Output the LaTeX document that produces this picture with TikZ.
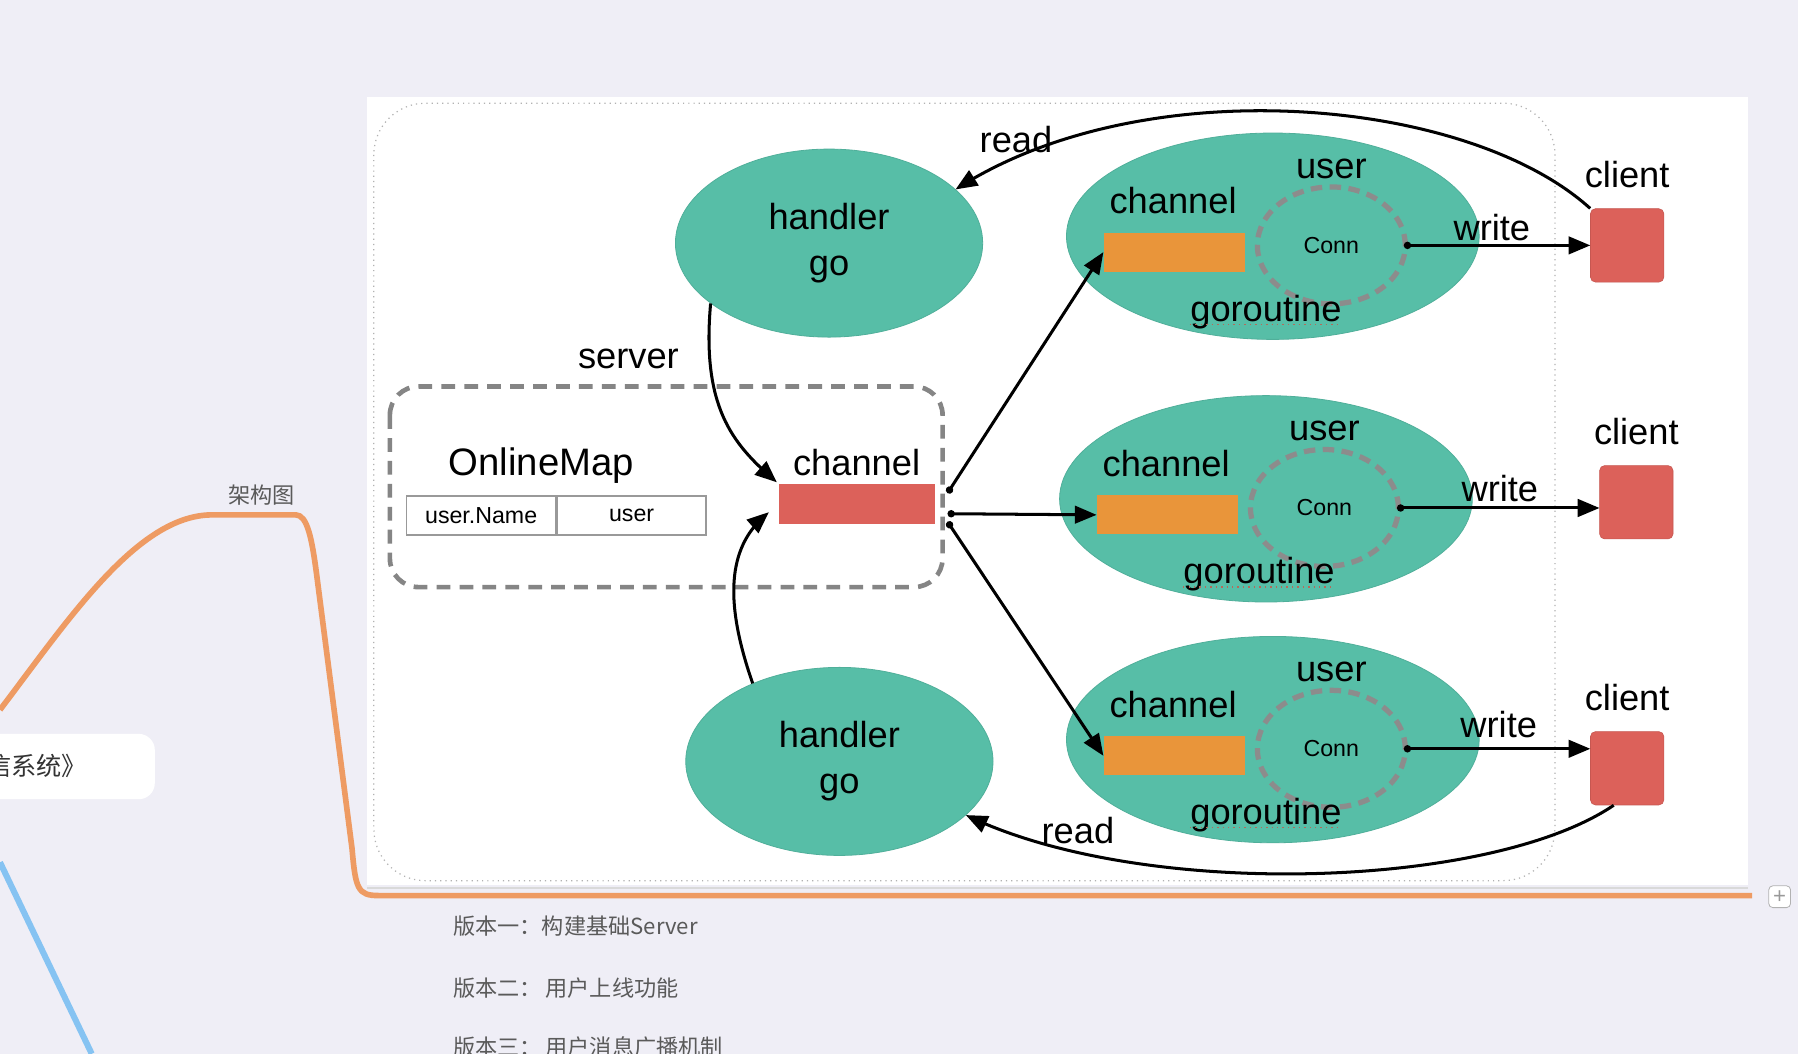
\documentclass[tikz,border=0pt]{standalone}
\usepackage{fontspec}
\setmainfont{Liberation Sans}
\newfontfamily\cjk{Noto Sans CJK SC}
\usetikzlibrary{shapes.geometric, arrows, arrows.meta, positioning}

\definecolor{bgpurple}{HTML}{EFEEF6}
\definecolor{gotea}{HTML}{57BEA7}
\definecolor{barorange}{HTML}{E9953A}
\definecolor{clientred}{HTML}{DC615A}
\definecolor{mapgray}{HTML}{858585}
\definecolor{conngray}{HTML}{8C8C8C}
\definecolor{branchorange}{HTML}{EE9B63}
\definecolor{branchblue}{HTML}{86C3F2}
\definecolor{cjkgray}{HTML}{5A5A5A}
\definecolor{spellred}{HTML}{B56A5A}

\tikzset{
  bigtext/.style={font=\fontsize{18}{23}\selectfont, inner sep=0pt},
  cjktext/.style={font=\cjk\fontsize{11}{13}\selectfont, text=cjkgray, inner sep=0pt},
  handler/.style={ellipse, fill=gotea, draw=gotea!92!black, line width=0.4pt, inner sep=0pt,
    minimum width=5.36cm, minimum height=3.28cm, align=center, font=\fontsize{18}{23}\selectfont},
  goell/.style={ellipse, fill=gotea, draw=gotea!92!black, line width=0.4pt, inner sep=0pt,
    minimum width=7.2cm, minimum height=3.6cm},
  orangebar/.style={rectangle, fill=barorange, inner sep=0pt, minimum width=2.46cm, minimum height=0.68cm},
  redbar/.style={rectangle, fill=clientred, inner sep=0pt, minimum width=2.72cm, minimum height=0.7cm},
  conncircle/.style={ellipse, draw=conngray, line width=2.6pt, dash pattern=on 0.2cm off 0.13cm,
    inner sep=0pt, minimum width=2.58cm, minimum height=2.04cm, font=\fontsize{11.5}{13}\selectfont},
  clientbox/.style={rectangle, rounded corners=2.5pt, fill=clientred, draw=clientred!90!black,
    line width=0.3pt, minimum size=1.28cm, inner sep=0pt},
  cell/.style={rectangle, draw=black!40, line width=0.7pt, minimum width=2.6cm, minimum height=0.68cm,
    inner sep=0pt, font=\fontsize{11.5}{13}\selectfont},
  arrowline/.style={line width=1.5pt, -triangle 45},
  dotline/.style={line width=1.5pt, {Circle[length=3.6pt]}-triangle 45},
}

\begin{document}
\begin{tikzpicture}[x=0.02cm, y=-0.02cm]
  \fill[bgpurple] (0,0) rectangle (1568,919);
  \useasboundingbox (0,0) rectangle (1568,919);

  % mind map around the picture
  \draw[branchblue, line width=3pt] (0,752) -- (80,919);
  \fill[white, rounded corners=8pt] (-20,640) rectangle (135,697);
  \node[cjktext, font=\cjk\fontsize{12.5}{14}\selectfont, text=black!80, anchor=east] (title) at (76,668) {信系统》};
  \node[cjktext] (archlabel) at (228,432) {架构图};

  \fill[white] (320,85) rectangle (1524,772);
  \draw[black!15, line width=1pt] (320,774) -- (1524,774);
  \draw[branchorange, line width=2.8pt, line join=round]
    (0,619) .. controls (60,540) and (120,449) .. (185,449) -- (258,449)
    .. controls (268,449) and (272,470) .. (276,500) -- (307,740)
    .. controls (310,775) and (312,781) .. (330,781) -- (1528,781);
  \node[draw=black!30, fill=white, rounded corners=2pt, minimum size=0.38cm, inner sep=0pt,
    font=\fontsize{11}{11}\selectfont, text=black!40] (plusbox) at (1552,782) {+};

  \node[cjktext, anchor=west] (v1) at (395,808) {版本一：构建基础Server};
  \node[cjktext, anchor=west] (v2) at (395,862) {版本二：\,用户上线功能};
  \node[cjktext, anchor=west] (v3) at (395,913) {版本三：\,用户消息广播机制};

  % the diagram
  \draw[black!30, dotted, line width=0.6pt, rounded corners=0.9cm] (326,90) rectangle (1356,768);

  \draw[mapgray, line width=2.3pt, dash pattern=on 0.24cm off 0.16cm, rounded corners=0.5cm]
    (340,337) rectangle (822,512);
  \node[bigtext, font=\fontsize{19}{23}\selectfont] (mapname) at (472,406) {OnlineMap};
  \node[cell, anchor=north west] (mapkey) at (354,432) {user.Name};
  \node[cell, right=0pt of mapkey] (mapval) {user};
  \node[bigtext] (chlabel) at (747,403) {channel};
  \node[redbar] (rbar) at (747,439.5) {};
  \node[bigtext] (serverlab) at (548,313) {server};

  \node[handler] (h1) at (723,212) {handler\\go};
  \node[handler] (h2) at (732,664) {handler\\go};

  \foreach \i/\gx/\gy/\cx/\cy/\wx/\wy/\oy in {1/1110/206/1419/214/191/-8/0.19cm,
      2/1104/435/1427/438/204/-9/-0.17cm, 3/1110/645/1419/670/197/-13/-0.31cm} {
    \node[goell] (g\i) at (\gx,\gy) {};
    \begin{scope}[shift={(\gx,\gy)}]
      \node[bigtext] (ch\i) at (-87,-31) {channel};
      \node[orangebar] (bar\i) at (-86,14) {};
      \node[conncircle] (conn\i) at (51,8) {Conn};
      \node[bigtext] (user\i) at (51,-59) {user};
      \node[bigtext] (gor\i) at (-6,66) {goroutine};
      \node[bigtext] (wlab\i) at (\wx,\wy) {write};
    \end{scope}
    \draw[spellred, line width=0.7pt, dotted]
      ([yshift=-1.5pt]gor\i.base west) -- ([yshift=-1.5pt]gor\i.base east);
    \node[clientbox] (client\i) at (\cx,\cy) {};
    \node[bigtext, above=0.35cm of client\i] (clab\i) {client};
    \draw[dotline] ([xshift=-2pt]conn\i.east) -- (conn\i.east -| client\i.west);
    \draw[dotline] ([xshift=0.22cm, yshift=\oy]rbar.east) -- (bar\i.west);
  }

  \draw[arrowline, shorten >=1pt] (h1.207) .. controls +(-8,90) and +(-40,-35) .. (rbar.north west);
  \draw[arrowline, shorten >=0.22cm] (h2.138) .. controls +(-28,-80) and +(-40,35) .. (rbar.west);

  \draw[arrowline] (client1.north west) .. controls (1280,85) and (1000,60) .. (h1.23);
  \node[bigtext] (read1) at (886,122) {read};
  \draw[arrowline] (client3.250) .. controls (1300,775) and (1000,785) .. (h2.-23);
  \node[bigtext] (read2) at (940,724) {read};
\end{tikzpicture}
\end{document}
